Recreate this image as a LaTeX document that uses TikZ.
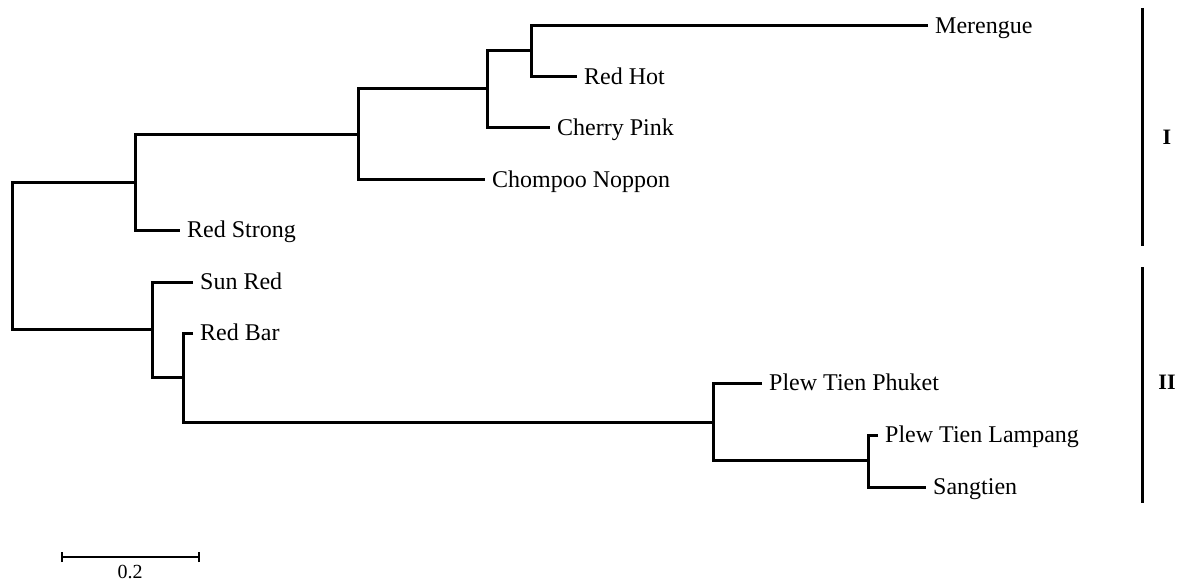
\documentclass[tikz,border=0pt]{standalone}
\usepackage{fontspec}
\setmainfont{Liberation Serif}
\begin{document}
\begin{tikzpicture}[x=1pt,y=-1pt,
  tree/.style={line width=3pt, line join=miter},
  leaf/.style={anchor=west, inner xsep=7pt, inner ysep=0pt, text height=17pt, text depth=2pt,
    font=\fontsize{24}{28}\selectfont},
  grp/.style={font=\bfseries\fontsize{22}{26}\selectfont, inner sep=0pt},
  scalelab/.style={font=\fontsize{20}{24}\selectfont, inner sep=0pt}]
\useasboundingbox (0,0) rectangle (1184,583);
% leaves
\node[leaf] (mer) at (928,26) {Merengue};
\node[leaf] (rh)  at (577,77) {Red Hot};
\node[leaf] (cp)  at (550,128) {Cherry Pink};
\node[leaf] (cn)  at (485,180) {Chompoo Noppon};
\node[leaf] (rs)  at (180,230) {Red Strong};
\node[leaf] (sr)  at (193,282) {Sun Red};
\node[leaf] (rb)  at (193,333) {Red Bar};
\node[leaf] (ptp) at (762,383) {Plew Tien Phuket};
\node[leaf] (ptl) at (878,435) {Plew Tien Lampang};
\node[leaf] (st)  at (926,487) {Sangtien};
% internal nodes
\coordinate (R) at (12,256);
\coordinate (A) at (135,183);
\coordinate (B) at (358,135);
\coordinate (C) at (487,89);
\coordinate (D) at (531,51);
\coordinate (E) at (152,329);
\coordinate (F) at (183,377);
\coordinate (G) at (713,422);
\coordinate (H) at (868,460);
% branches
\draw[tree] (A) -| (R) |- (E);
\draw[tree] (B) -| (A) |- (rs.west);
\draw[tree] (C) -| (B) |- (cn.west);
\draw[tree] (D) -| (C) |- (cp.west);
\draw[tree] (mer.west) -| (D) |- (rh.west);
\draw[tree] (sr.west) -| (E) |- (F);
\draw[tree] (rb.west) -| (F) |- (G);
\draw[tree] (ptp.west) -| (G) |- (H);
\draw[tree] (ptl.west) -| (H) |- (st.west);
% group bars
\coordinate (g1t) at (1142,8);
\coordinate (g1b) at (1142,246);
\coordinate (g2t) at (1142,267);
\coordinate (g2b) at (1142,503);
\draw[tree] (g1t) -- (g1b);
\draw[tree] (g2t) -- (g2b);
\node[grp] (gI) at (1167,137) {I};
\node[grp] (gII) at (1167,382) {II};
% scale bar
\coordinate (s1) at (62,557);
\coordinate (s2) at (199,557);
\draw[line width=2.4pt] (s1) -- (s2);
\draw[line width=2.4pt] ([yshift=-5pt]s1) -- ([yshift=5pt]s1);
\draw[line width=2.4pt] ([yshift=-5pt]s2) -- ([yshift=5pt]s2);
\node[scalelab, anchor=north] (sl) at (130,565) {0.2};
\end{tikzpicture}
\end{document}
